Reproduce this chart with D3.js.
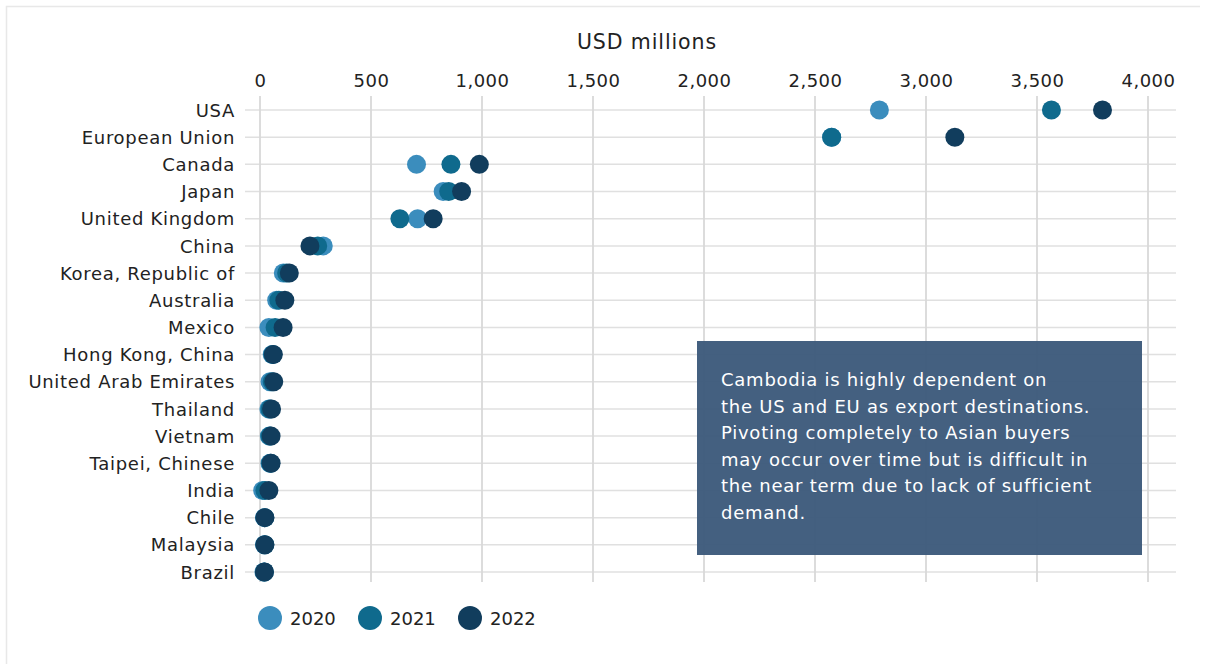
<!DOCTYPE html>
<html>
<head>
<meta charset="utf-8">
<script src="https://cdn.jsdelivr.net/npm/d3@7"></script>
<style>
  html, body { margin: 0; padding: 0; background: #fff; }
  svg text { font-family: "DejaVu Sans", "Noto Sans", sans-serif; }
</style>
</head>
<body>
<div class="chart"></div>
<script>
const countries = ['USA', 'European Union', 'Canada', 'Japan', 'United Kingdom', 'China',
  'Korea, Republic of', 'Australia', 'Mexico', 'Hong Kong, China', 'United Arab Emirates',
  'Thailand', 'Vietnam', 'Taipei, Chinese', 'India', 'Chile', 'Malaysia', 'Brazil'];

const years = ['2020', '2021', '2022'];

const values2020 = [2790, 2575, 705, 825, 710, 285, 105, 75, 40, 55, 45, 40, 42, 45, 12, 20, 20, 18];
const values2021 = [3565, 2575, 860, 850, 630, 260, 120, 85, 68, 58, 55, 45, 45, 48, 22, 22, 22, 20];
const values2022 = [3795, 3130, 988, 908, 780, 225, 132, 112, 104, 60, 62, 52, 50, 50, 40, 22, 22, 20];

const xTicks = [0, 500, 1000, 1500, 2000, 2500, 3000, 3500, 4000];

const yearColors = ['#3b8dbd', '#0f6a8d', '#113d5d'];

const noteLines = [
  'Cambodia is highly dependent on',
  'the US and EU as export destinations.',
  'Pivoting completely to Asian buyers',
  'may occur over time but is difficult in',
  'the near term due to lack of sufficient',
  'demand.'
];

const config = { width: 1206, height: 664 };

const svg = d3.select('.chart')
  .append('svg')
  .attr('width', config.width)
  .attr('height', config.height);

// faint frame of the original figure
svg.append('path')
  .attr('d', 'M6.5,664 L6.5,6.5 L1200,6.5')
  .attr('fill', 'none')
  .attr('stroke', '#e8e8e8')
  .attr('stroke-width', 1.5);

const x = d3.scaleLinear().domain([0, 4000]).range([260, 1148]);
const y = d3.scalePoint().domain(countries).range([110, 572]);

// grid
svg.append('g')
  .selectAll('line')
  .data(countries)
  .enter()
  .append('line')
  .attr('x1', 245)
  .attr('x2', 1176)
  .attr('y1', d => y(d))
  .attr('y2', d => y(d))
  .attr('stroke', '#e0e0e0')
  .attr('stroke-width', 1.5);

svg.append('g')
  .selectAll('line')
  .data(xTicks)
  .enter()
  .append('line')
  .attr('x1', d => x(d))
  .attr('x2', d => x(d))
  .attr('y1', 96)
  .attr('y2', 582)
  .attr('stroke', '#d9d9d9')
  .attr('stroke-width', 1.8);

// top axis
const xAxis = d3.axisTop(x)
  .tickValues(xTicks)
  .tickFormat(d3.format(','))
  .tickSize(0)
  .tickPadding(0);

const gx = svg.append('g')
  .attr('transform', 'translate(0,87)')
  .call(xAxis);
gx.select('.domain').remove();
gx.selectAll('text')
  .attr('font-size', 18)
  .attr('fill', '#222')
  .style('letter-spacing', '0.5px')
  .style('font-family', '"DejaVu Sans", sans-serif');

svg.append('text')
  .attr('x', 647)
  .attr('y', 49)
  .attr('text-anchor', 'middle')
  .attr('font-size', 20.5)
  .attr('fill', '#222')
  .style('letter-spacing', '0.9px')
  .text('USD millions');

// left axis
const yAxis = d3.axisLeft(y).tickSize(0).tickPadding(0);
const gy = svg.append('g')
  .attr('transform', 'translate(235,0)')
  .call(yAxis);
gy.select('.domain').remove();
gy.selectAll('text')
  .attr('font-size', 18)
  .attr('fill', '#222')
  .attr('dy', '0.34em')
  .style('letter-spacing', '0.7px')
  .style('font-family', '"DejaVu Sans", sans-serif');

// dots
const series = [values2020, values2021, values2022];
series.forEach((vals, i) => {
  svg.append('g')
    .selectAll('circle')
    .data(countries)
    .enter()
    .append('circle')
    .attr('cx', (d, j) => x(vals[j]))
    .attr('cy', d => y(d))
    .attr('r', 9.5)
    .attr('fill', yearColors[i]);
});

// note box
svg.append('rect')
  .attr('x', 697)
  .attr('y', 341)
  .attr('width', 445)
  .attr('height', 214)
  .attr('fill', '#3c5a7b')
  .attr('fill-opacity', 0.96);

svg.append('g')
  .selectAll('text')
  .data(noteLines)
  .enter()
  .append('text')
  .attr('x', 721)
  .attr('y', (d, i) => 386 + i * 26.6)
  .attr('font-size', 18)
  .attr('fill', '#fff')
  .style('letter-spacing', '0.75px')
  .text(d => d);

// legend
const legend = svg.append('g')
  .selectAll('g')
  .data(years)
  .enter()
  .append('g')
  .attr('transform', (d, i) => `translate(${270 + i * 100},618)`);

legend.append('circle')
  .attr('r', 12)
  .attr('fill', (d, i) => yearColors[i]);

legend.append('text')
  .attr('x', 20)
  .attr('y', 6.5)
  .attr('font-size', 18)
  .attr('fill', '#222')
  .text(d => d);
</script>
</body>
</html>
